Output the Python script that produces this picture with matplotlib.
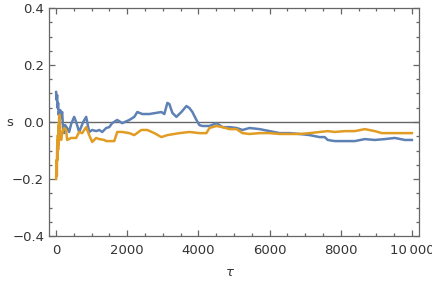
import matplotlib
matplotlib.use("Agg")
import matplotlib.pyplot as plt
from matplotlib.ticker import MultipleLocator

# blue series (tau, s)
tau_blue = [0, 14, 28, 42, 56, 70, 85, 99, 113, 141, 169, 197, 225, 254, 310, 366,
            423, 507, 563, 648, 761, 845, 930, 1014, 1127, 1211, 1296, 1408, 1493,
            1577, 1718, 1859, 2056, 2197, 2282, 2423, 2620, 2817, 2958, 3042, 3127,
            3183, 3268, 3380, 3521, 3662, 3747, 3831, 3944, 4028, 4113, 4310, 4507,
            4676, 4873, 5071, 5240, 5437, 5719, 6000, 6282, 6564, 6845, 7127, 7409,
            7550, 7634, 7831, 8113, 8395, 8676, 8958, 9240, 9521, 9803, 10000]
s_blue = [0.105, 0.077, 0.095, 0.049, 0.067, 0.025, 0.035, 0.007, 0.042, 0.014,
          0.035, -0.021, -0.039, -0.011, -0.021, -0.035, -0.007, 0.018, 0.0, -0.035,
          0.0, 0.018, -0.035, -0.028, -0.032, -0.028, -0.035, -0.021, -0.018, -0.004,
          0.007, -0.004, 0.007, 0.018, 0.035, 0.028, 0.028, 0.032, 0.035, 0.028,
          0.067, 0.063, 0.032, 0.018, 0.035, 0.056, 0.049, 0.035, 0.007, -0.011,
          -0.014, -0.014, -0.004, -0.018, -0.018, -0.021, -0.028, -0.021, -0.025,
          -0.032, -0.039, -0.039, -0.042, -0.046, -0.053, -0.053, -0.063, -0.067,
          -0.067, -0.067, -0.060, -0.063, -0.060, -0.056, -0.063, -0.063]

# orange series
tau_orange = [0, 5, 14, 21, 28, 35, 42, 49, 56, 63, 70, 85, 99, 113, 141, 169, 225,
              282, 310, 423, 563, 648, 732, 845, 930, 1014, 1127, 1211, 1352, 1408,
              1634, 1718, 1859, 2056, 2197, 2394, 2563, 2761, 2958, 3127, 3324, 3465,
              3747, 4028, 4225, 4310, 4507, 4676, 4873, 5071, 5240, 5437, 5719, 6000,
              6282, 6564, 6845, 7127, 7409, 7634, 7831, 8113, 8395, 8676, 8958, 9155,
              9437, 9718, 10000]
s_orange = [-0.200, -0.168, -0.133, -0.190, -0.098, -0.063, -0.133, -0.046, -0.098,
            -0.011, -0.081, 0.014, 0.025, -0.028, -0.063, -0.039, -0.021, -0.028,
            -0.063, -0.056, -0.056, -0.035, -0.039, -0.018, -0.046, -0.070, -0.056,
            -0.060, -0.063, -0.067, -0.067, -0.035, -0.035, -0.039, -0.046, -0.028,
            -0.028, -0.039, -0.053, -0.046, -0.042, -0.039, -0.035, -0.039, -0.039,
            -0.021, -0.014, -0.018, -0.025, -0.025, -0.039, -0.042, -0.039, -0.039,
            -0.042, -0.042, -0.042, -0.039, -0.035, -0.032, -0.035, -0.032, -0.032,
            -0.025, -0.032, -0.039, -0.039, -0.039, -0.039]

x_ticks = [0, 2000, 4000, 6000, 8000, 10000]
x_labels = ["0", "2000", "4000", "6000", "8000", "10\u2009000"]
y_ticks = [-0.4, -0.2, 0.0, 0.2, 0.4]

FRAME = "#666666"
TEXT = "#333333"

fig = plt.figure(figsize=(4.32, 2.82), dpi=100)
ax = fig.add_axes([49 / 432, 46 / 282, 370 / 432, 228 / 282])

ax.axhline(0, color=FRAME, lw=1.0, zorder=1)
ax.plot(tau_blue, s_blue, color="#5E81B5", lw=1.8, zorder=2)
ax.plot(tau_orange, s_orange, color="#E19C24", lw=1.8, zorder=3)

ax.set_xlim(-200, 10200)
ax.set_ylim(-0.4, 0.4)

ax.set_xticks(x_ticks)
ax.set_xticklabels(x_labels)
ax.set_yticks(y_ticks)
ax.set_yticklabels([f"{v:.1f}".replace("-", "\u2212") for v in y_ticks])
ax.xaxis.set_minor_locator(MultipleLocator(500))
ax.yaxis.set_minor_locator(MultipleLocator(0.05))

ax.tick_params(which="both", direction="in", top=True, right=True,
               color=FRAME, width=0.9, labelcolor=TEXT, labelsize=9.5)
ax.tick_params(which="major", length=4)
ax.tick_params(which="minor", length=2.2)
ax.tick_params(axis="x", pad=6)
for sp in ax.spines.values():
    sp.set_color(FRAME)
    sp.set_linewidth(0.9)

fig.text(10 / 432, 1 - 122 / 282, "s", fontsize=9.5, color=TEXT, ha="center", va="center")
fig.text(230 / 432, 1 - 272 / 282, "\u03c4", fontsize=9.5, color=TEXT, ha="center",
         va="center", style="italic")

fig.savefig("out.png", dpi=100)
